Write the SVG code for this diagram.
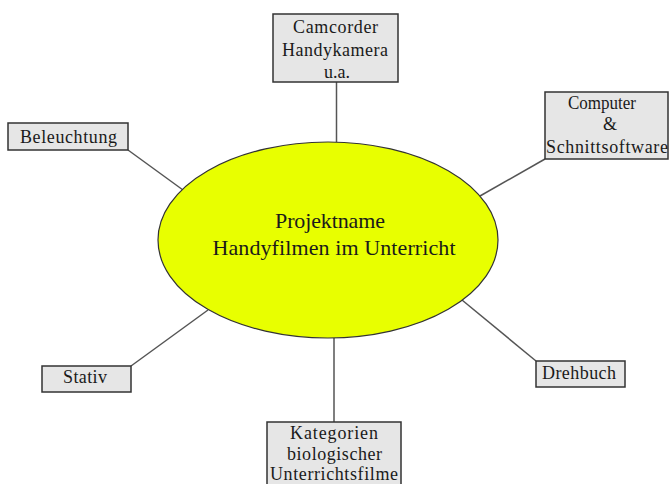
<svg xmlns="http://www.w3.org/2000/svg" width="669" height="484" viewBox="0 0 669 484">
  <style>
    .box { fill: #e6e6e6; stroke: #333333; stroke-width: 1.5; }
    .link { stroke: #555555; stroke-width: 1.5; fill: none; }
    text { font-family: 'Liberation Serif', 'Times New Roman', serif; fill: #1a1a1a; text-anchor: middle; }
    .lbl { font-size: 18px; }
    .hub { font-size: 22px; }
  </style>
  <rect width="669" height="484" fill="#ffffff"/>

  <!-- spokes from the central ellipse to each topic box -->
  <g id="connectors">
    <line class="link" x1="336.5" y1="82" x2="336.5" y2="142"/>
    <line class="link" x1="128" y1="150" x2="183" y2="190"/>
    <line class="link" x1="545" y1="159" x2="480" y2="196"/>
    <line class="link" x1="131" y1="366" x2="208" y2="310"/>
    <line class="link" x1="536" y1="361" x2="462" y2="300"/>
    <line class="link" x1="334" y1="338" x2="334" y2="422"/>
  </g>

  <g id="projekt">
    <ellipse cx="328" cy="240" rx="170" ry="98" fill="#e8ff00" stroke="#333333" stroke-width="1.2"/>
    <text class="hub" x="330" y="228" textLength="110">Projektname</text>
    <text class="hub" x="334" y="255" textLength="243">Handyfilmen im Unterricht</text>
  </g>

  <g id="camcorder">
    <rect class="box" x="273" y="14" width="125" height="68"/>
    <text class="lbl" x="335.5" y="33" textLength="85">Camcorder</text>
    <text class="lbl" x="335" y="56" textLength="106">Handykamera</text>
    <text class="lbl" x="337" y="78">u.a.</text>
  </g>

  <g id="beleuchtung">
    <rect class="box" x="8" y="123" width="120" height="27"/>
    <text class="lbl" x="68.5" y="143" textLength="97">Beleuchtung</text>
  </g>

  <g id="computer">
    <rect class="box" x="545" y="92" width="123" height="67"/>
    <text class="lbl" x="602" y="109" textLength="68" lengthAdjust="spacingAndGlyphs">Computer</text>
    <text class="lbl" x="610" y="130">&amp;</text>
    <text class="lbl" x="607" y="153" textLength="122">Schnittsoftware</text>
  </g>

  <g id="stativ">
    <rect class="box" x="42" y="366" width="89" height="26"/>
    <text class="lbl" x="85" y="383" textLength="44">Stativ</text>
  </g>

  <g id="drehbuch">
    <rect class="box" x="536" y="361" width="89" height="26"/>
    <text class="lbl" x="579" y="379" textLength="74">Drehbuch</text>
  </g>

  <g id="kategorien">
    <rect class="box" x="267" y="422" width="134" height="70"/>
    <text class="lbl" x="334" y="439" textLength="88">Kategorien</text>
    <text class="lbl" x="334.5" y="460" textLength="95">biologischer</text>
    <text class="lbl" x="334" y="480" textLength="128">Unterrichtsfilme</text>
  </g>
</svg>
